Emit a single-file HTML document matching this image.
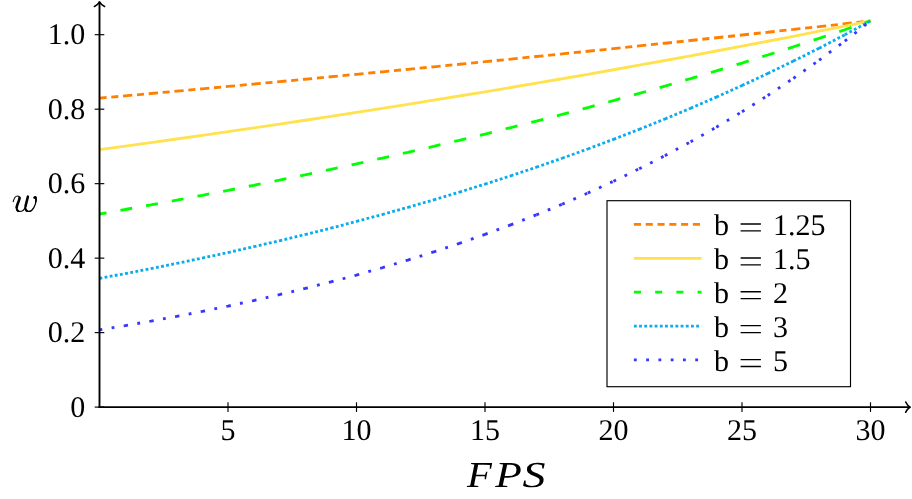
<!DOCTYPE html>
<html><head><meta charset="utf-8"><title>chart</title>
<style>
html,body{margin:0;padding:0;background:#fff;}
body{width:912px;height:499px;overflow:hidden;font-family:"Liberation Serif",serif;}
svg{display:block;}
text{font-family:"Liberation Serif",serif;fill:#000;text-rendering:geometricPrecision;}
svg{will-change:transform;}
.t{font-size:30px;}
.it{font-style:italic;}
</style></head><body>
<svg width="912" height="499" viewBox="0 0 912 499">
<rect width="912" height="499" fill="#fff"/>
<path d="M99.50 98.16 L125.20 95.85 M125.20 95.85 L150.90 93.53 M150.90 93.53 L176.60 91.19 M176.60 91.19 L202.30 88.83 M202.30 88.83 L228.00 86.45 M228.00 86.45 L253.70 84.06 M253.70 84.06 L279.40 81.65 M279.40 81.65 L305.10 79.22 M305.10 79.22 L330.80 76.77 M330.80 76.77 L356.50 74.30 M356.50 74.30 L382.20 71.82 M382.20 71.82 L407.90 69.31 M407.90 69.31 L433.60 66.79 M433.60 66.79 L459.30 64.25 M459.30 64.25 L485.00 61.69 M485.00 61.69 L510.70 59.11 M510.70 59.11 L536.40 56.51 M536.40 56.51 L562.10 53.90 M562.10 53.90 L587.80 51.26 M587.80 51.26 L613.50 48.60 M613.50 48.60 L639.20 45.93 M639.20 45.93 L664.90 43.23 M664.90 43.23 L690.60 40.51 M690.60 40.51 L716.30 37.78 M716.30 37.78 L742.00 35.02 M742.00 35.02 L767.70 32.24 M767.70 32.24 L793.40 29.44 M793.40 29.44 L819.10 26.62 M819.10 26.62 L844.80 23.78 M844.80 23.78 L870.50 20.92" fill="none" stroke="#FF8000" stroke-width="2.83" stroke-dasharray="7.08 4.72"/>
<path d="M99.50 149.65 L125.20 146.14 M125.20 146.14 L150.90 142.59 M150.90 142.59 L176.60 138.99 M176.60 138.99 L202.30 135.35 M202.30 135.35 L228.00 131.65 M228.00 131.65 L253.70 127.90 M253.70 127.90 L279.40 124.10 M279.40 124.10 L305.10 120.25 M305.10 120.25 L330.80 116.35 M330.80 116.35 L356.50 112.39 M356.50 112.39 L382.20 108.38 M382.20 108.38 L407.90 104.32 M407.90 104.32 L433.60 100.20 M433.60 100.20 L459.30 96.02 M459.30 96.02 L485.00 91.79 M485.00 91.79 L510.70 87.50 M510.70 87.50 L536.40 83.15 M536.40 83.15 L562.10 78.74 M562.10 78.74 L587.80 74.27 M587.80 74.27 L613.50 69.74 M613.50 69.74 L639.20 65.15 M639.20 65.15 L664.90 60.50 M664.90 60.50 L690.60 55.78 M690.60 55.78 L716.30 51.00 M716.30 51.00 L742.00 46.16 M742.00 46.16 L767.70 41.24 M767.70 41.24 L793.40 36.27 M793.40 36.27 L819.10 31.22 M819.10 31.22 L844.80 26.11 M844.80 26.11 L870.50 20.92" fill="none" stroke="#FFE24E" stroke-width="2.83"/>
<path d="M99.50 214.01 L125.20 209.50 M125.20 209.50 L150.90 204.88 M150.90 204.88 L176.60 200.15 M176.60 200.15 L202.30 195.31 M202.30 195.31 L228.00 190.36 M228.00 190.36 L253.70 185.30 M253.70 185.30 L279.40 180.11 M279.40 180.11 L305.10 174.81 M305.10 174.81 L330.80 169.38 M330.80 169.38 L356.50 163.82 M356.50 163.82 L382.20 158.14 M382.20 158.14 L407.90 152.32 M407.90 152.32 L433.60 146.36 M433.60 146.36 L459.30 140.27 M459.30 140.27 L485.00 134.03 M485.00 134.03 L510.70 127.65 M510.70 127.65 L536.40 121.12 M536.40 121.12 L562.10 114.43 M562.10 114.43 L587.80 107.59 M587.80 107.59 L613.50 100.59 M613.50 100.59 L639.20 93.43 M639.20 93.43 L664.90 86.09 M664.90 86.09 L690.60 78.59 M690.60 78.59 L716.30 70.91 M716.30 70.91 L742.00 63.05 M742.00 63.05 L767.70 55.01 M767.70 55.01 L793.40 46.78 M793.40 46.78 L819.10 38.36 M819.10 38.36 L844.80 29.74 M844.80 29.74 L870.50 20.92" fill="none" stroke="#00FF00" stroke-width="2.83" stroke-dasharray="7.08 14.16"/>
<path d="M99.50 278.37 L125.20 273.57 M125.20 273.57 L150.90 268.59 M150.90 268.59 L176.60 263.43 M176.60 263.43 L202.30 258.07 M202.30 258.07 L228.00 252.51 M228.00 252.51 L253.70 246.74 M253.70 246.74 L279.40 240.76 M279.40 240.76 L305.10 234.56 M305.10 234.56 L330.80 228.12 M330.80 228.12 L356.50 221.44 M356.50 221.44 L382.20 214.52 M382.20 214.52 L407.90 207.34 M407.90 207.34 L433.60 199.89 M433.60 199.89 L459.30 192.16 M459.30 192.16 L485.00 184.14 M485.00 184.14 L510.70 175.82 M510.70 175.82 L536.40 167.20 M536.40 167.20 L562.10 158.25 M562.10 158.25 L587.80 148.97 M587.80 148.97 L613.50 139.34 M613.50 139.34 L639.20 129.35 M639.20 129.35 L664.90 118.99 M664.90 118.99 L690.60 108.25 M690.60 108.25 L716.30 97.10 M716.30 97.10 L742.00 85.54 M742.00 85.54 L767.70 73.54 M767.70 73.54 L793.40 61.10 M793.40 61.10 L819.10 48.19 M819.10 48.19 L844.80 34.81 M844.80 34.81 L870.50 20.92" fill="none" stroke="#0AACF0" stroke-width="2.83" stroke-dasharray="2.83 2.36"/>
<path d="M99.50 329.86 L125.20 325.61 M125.20 325.61 L150.90 321.12 M150.90 321.12 L176.60 316.38 M176.60 316.38 L202.30 311.38 M202.30 311.38 L228.00 306.10 M228.00 306.10 L253.70 300.54 M253.70 300.54 L279.40 294.66 M279.40 294.66 L305.10 288.47 M305.10 288.47 L330.80 281.93 M330.80 281.93 L356.50 275.03 M356.50 275.03 L382.20 267.75 M382.20 267.75 L407.90 260.07 M407.90 260.07 L433.60 251.97 M433.60 251.97 L459.30 243.42 M459.30 243.42 L485.00 234.40 M485.00 234.40 L510.70 224.88 M510.70 224.88 L536.40 214.83 M536.40 214.83 L562.10 204.24 M562.10 204.24 L587.80 193.06 M587.80 193.06 L613.50 181.26 M613.50 181.26 L639.20 168.81 M639.20 168.81 L664.90 155.68 M664.90 155.68 L690.60 141.83 M690.60 141.83 L716.30 127.21 M716.30 127.21 L742.00 111.78 M742.00 111.78 L767.70 95.50 M767.70 95.50 L793.40 78.33 M793.40 78.33 L819.10 60.21 M819.10 60.21 L844.80 41.09 M844.80 41.09 L870.50 20.92" fill="none" stroke="#3636FF" stroke-width="2.83" stroke-dasharray="2.83 9.44"/>
<g stroke="#000" fill="none">
<path d="M99.50 408.05 L99.50 1.8" stroke-width="1.90"/>
<path d="M98.55 407.10 L910.0 407.10" stroke-width="1.90"/>
<path d="M-4.5 -5.1 C-3.7 -3.3 -1.9 -1.0 0 0 C-1.9 1.0 -3.7 3.3 -4.5 5.1" transform="translate(910.2 407.10)" stroke-width="1.6" stroke-linecap="round" stroke-linejoin="round"/>
<path d="M-4.5 -5.1 C-3.7 -3.3 -1.9 -1.0 0 0 C-1.9 1.0 -3.7 3.3 -4.5 5.1" transform="translate(99.50 1.9) rotate(-90)" stroke-width="1.6" stroke-linecap="round" stroke-linejoin="round"/>
<path d="M228.00 402.30 V411.90" stroke-width="1.15"/>
<path d="M356.50 402.30 V411.90" stroke-width="1.15"/>
<path d="M485.00 402.30 V411.90" stroke-width="1.15"/>
<path d="M613.50 402.30 V411.90" stroke-width="1.15"/>
<path d="M742.00 402.30 V411.90" stroke-width="1.15"/>
<path d="M870.50 402.30 V411.90" stroke-width="1.15"/>
<path d="M94.70 407.10 H104.30" stroke-width="1.15"/>
<path d="M94.70 332.62 H104.30" stroke-width="1.15"/>
<path d="M94.70 258.14 H104.30" stroke-width="1.15"/>
<path d="M94.70 183.66 H104.30" stroke-width="1.15"/>
<path d="M94.70 109.18 H104.30" stroke-width="1.15"/>
<path d="M94.70 34.70 H104.30" stroke-width="1.15"/>
</g>
<text class="t" x="228.00" y="440.3" text-anchor="middle">5</text>
<text class="t" x="356.50" y="440.3" text-anchor="middle">10</text>
<text class="t" x="485.00" y="440.3" text-anchor="middle">15</text>
<text class="t" x="613.50" y="440.3" text-anchor="middle">20</text>
<text class="t" x="742.00" y="440.3" text-anchor="middle">25</text>
<text class="t" x="870.50" y="440.3" text-anchor="middle">30</text>
<text class="t" x="85.3" y="416.80" text-anchor="end">0</text>
<text class="t" x="85.3" y="342.32" text-anchor="end">0.2</text>
<text class="t" x="85.3" y="267.84" text-anchor="end">0.4</text>
<text class="t" x="85.3" y="193.36" text-anchor="end">0.6</text>
<text class="t" x="85.3" y="118.88" text-anchor="end">0.8</text>
<text class="t" x="85.3" y="44.40" text-anchor="end">1.0</text>
<g fill="none" stroke="#000" stroke-linecap="round" stroke-linejoin="round">
<path d="M13.2 201.6 C14.0 198.5 15.6 196.0 17.5 196.0 C18.9 196.0 19.7 196.9 19.7 198.2" stroke-width="1.1"/>
<path d="M19.6 197.8 C19.3 201.0 16.9 204.6 16.7 207.4" stroke-width="2.6"/>
<path d="M16.7 206.8 C16.4 209.4 17.2 210.7 18.6 211.1" stroke-width="1.9"/>
<path d="M16.6 208.6 C16.7 210.6 18.0 211.45 19.8 211.45 C22.3 211.45 24.2 209.6 25.2 207.2" stroke-width="1.15"/>
<path d="M27.9 196.6 L25.6 205.9" stroke-width="2.5"/>
<path d="M25.7 205.4 C25.0 208.4 25.5 210.4 27.4 211.1" stroke-width="1.9"/>
<path d="M25.4 208.4 C25.4 210.4 26.6 211.45 28.9 211.45 C32.6 211.45 36.0 205.0 36.0 199.8 C36.0 198.2 35.9 197.4 35.6 196.8" stroke-width="1.25"/>
<path d="M35.9 201.6 C36.1 200.2 36.05 198.6 35.7 197.6" stroke-width="1.7"/>
</g>
<ellipse cx="35.0" cy="197.5" rx="1.7" ry="1.5" fill="#000"/>
<text class="it" font-size="36.5" transform="translate(467.10 486.8) scale(1.115 1)">F</text>
<text class="it" font-size="36.5" transform="translate(495.20 486.8) scale(1.190 1)">P</text>
<text class="it" font-size="36.5" transform="translate(522.60 486.8) scale(1.260 1)">S</text>
<rect x="607" y="200.7" width="243.5" height="186" fill="#fff" stroke="#000" stroke-width="1.15"/>
<path d="M633.9 224.40 H701.5" fill="none" stroke="#FF8000" stroke-width="2.83" stroke-dasharray="7.08 4.72"/>
<text class="t" y="235.00"><tspan x="713.9">b</tspan><tspan x="772.9">1.25</tspan></text>
<path d="M740.6 224.00 H760.9 M740.6 230.90 H760.9" stroke="#000" stroke-width="1.35" fill="none"/>
<path d="M633.9 258.35 H701.5" fill="none" stroke="#FFE24E" stroke-width="2.83"/>
<text class="t" y="268.95"><tspan x="713.9">b</tspan><tspan x="772.9">1.5</tspan></text>
<path d="M740.6 257.95 H760.9 M740.6 264.85 H760.9" stroke="#000" stroke-width="1.35" fill="none"/>
<path d="M633.9 292.15 H701.5" fill="none" stroke="#00FF00" stroke-width="2.83" stroke-dasharray="7.08 14.16"/>
<text class="t" y="302.75"><tspan x="713.9">b</tspan><tspan x="772.9">2</tspan></text>
<path d="M740.6 291.75 H760.9 M740.6 298.65 H760.9" stroke="#000" stroke-width="1.35" fill="none"/>
<path d="M633.9 326.05 H701.5" fill="none" stroke="#0AACF0" stroke-width="2.83" stroke-dasharray="2.83 2.36"/>
<text class="t" y="336.65"><tspan x="713.9">b</tspan><tspan x="772.9">3</tspan></text>
<path d="M740.6 325.65 H760.9 M740.6 332.55 H760.9" stroke="#000" stroke-width="1.35" fill="none"/>
<path d="M633.9 359.95 H701.5" fill="none" stroke="#3636FF" stroke-width="2.83" stroke-dasharray="2.83 9.44"/>
<text class="t" y="370.55"><tspan x="713.9">b</tspan><tspan x="772.9">5</tspan></text>
<path d="M740.6 359.55 H760.9 M740.6 366.45 H760.9" stroke="#000" stroke-width="1.35" fill="none"/>
</svg>
</body></html>
